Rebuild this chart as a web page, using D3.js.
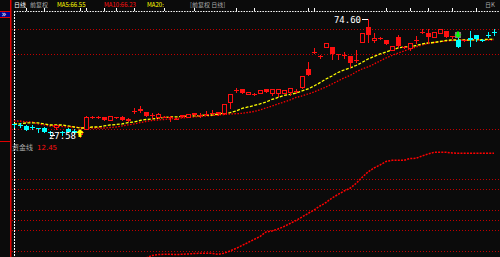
<!DOCTYPE html>
<html>
<head>
<meta charset="utf-8">
<script src="https://cdn.jsdelivr.net/npm/d3@7"></script>
<style>
  html, body { margin: 0; padding: 0; background: #0b0b0b; overflow: hidden; }
</style>
</head>
<body>
<div id="chart"></div>
<script>
// daily candles
const openP = [32.6,32.5,32.0,31.6,31.2,31.2,29.4,31.4,29.4,30.8, 30.0,28.8,30.8,35.4,35.6,35.6,34.4,35.2,35.6,34.8,
  37.9,38.7,37.5,36.0,35.6,35.6,35.6,34.8,36.4,35.6, 37.1,36.0,36.6,37.0,37.5,37.1,41.5,46.3,46.7,44.7,
  44.7,45.1,46.7,45.1,45.1,45.1,45.5,45.7,47.5,54.7, 61.3,59.5,63.4,63.4,60.5,60.1,59.9,58.0,65.4,71.4,
  66.2,67.2,66.2,62.2,67.4,63.4,63.0,66.0,69.4,69.0, 67.4,69.0,69.8,67.6,66.2,66.2,67.0,68.2,66.3,68.4, 69.6];
const highP = [32.8,33.2,32.2,32.4,31.2,31.4,29.8,32.4,30.0,31.0, 30.6,30.4,35.8,36.0,35.8,35.6,36.0,35.6,35.8,35.0,
  39.1,39.9,37.5,37.1,37.1,35.8,35.8,35.0,36.4,36.8, 37.2,37.1,37.9,38.3,37.5,40.8,44.8,47.1,46.7,45.6,
  45.0,46.4,46.7,46.8,46.8,46.4,47.1,46.7,51.9,57.5, 63.0,60.3,65.0,63.4,60.7,61.5,59.9,62.2,69.0,74.60,
  69.0,67.4,66.2,63.8,68.2,63.8,65.0,67.8,70.6,70.6, 69.4,70.6,69.8,68.0,67.0,66.4,69.8,68.4,66.6,69.4, 70.6];
const lowP = [31.6,31.6,30.4,30.8,29.6,29.6,28.9,30.6,28.4,29.4, 28.8,27.58,30.6,35.0,35.2,34.4,34.4,35.0,34.2,33.8,
  37.1,37.5,36.0,35.2,35.2,35.4,34.0,34.6,35.4,35.5, 36.2,35.6,36.4,36.7,36.5,36.8,39.1,45.5,45.1,44.6,
  44.5,45.0,45.5,44.2,44.0,45.0,44.2,45.1,47.3,52.3, 61.1,59.1,63.4,58.7,58.7,59.1,55.5,57.5,65.4,65.4,
  65.4,66.8,64.6,62.2,63.4,63.2,62.2,65.0,69.0,65.0, 67.4,69.0,67.4,67.2,63.4,66.0,63.8,65.8,65.8,67.4, 68.2];
const closeP = [32.4,32.3,30.4,31.4,30.9,29.6,29.2,32.2,29.2,29.6, 29.2,30.0,35.6,35.6,35.5,34.4,36.0,35.4,34.4,34.0,
  38.0,37.9,36.0,36.2,36.6,35.6,35.5,34.9,35.6,36.7, 36.4,36.2,36.8,37.2,36.7,40.7,44.7,46.5,45.1,45.5,
  44.8,46.3,45.5,46.7,46.7,46.3,47.1,45.9,51.9,52.3, 61.5,59.7,65.0,60.7,60.7,60.4,57.1,58.2,69.0,68.2,
  67.2,67.0,64.6,63.8,63.8,63.6,65.0,66.2,69.6,67.4, 69.4,70.6,67.4,67.8,63.4,66.3,66.2,66.6,66.2,68.2, 69.4];
// 1 = up day (red), 0 = down day (cyan)
const upDay = [0,0,0,0,0,0,0,1,0,0, 0,1,1,1,1,1,1,1,1,1,
  1,1,1,1,1,1,1,1,1,1, 1,1,1,1,1,1,1,1,1,1,
  1,1,1,1,1,1,1,1,1,1, 1,1,1,1,1,1,1,1,1,1,
  1,1,1,1,1,1,1,1,1,1, 1,1,1,1,0,1,0,0,0,0, 0];

const maShort = [32.77,32.77,33.17,33.17,33.17,32.77,32.37,32.37,32.37,31.97, 31.57,31.17,31.17,31.57,31.57,31.97,32.37,32.57,32.77,33.29,
  33.56,34.16,34.56,34.76,35.04,35.36,35.56,35.56,35.76,35.96, 35.96,36.08,36.35,36.35,36.75,37.03,37.27,37.95,38.95,39.54,
  40.14,40.74,41.53,42.53,43.33,44.12,44.52,45.12,45.92,46.71, 47.91,49.22,50.70,51.89,53.29,54.28,55.08,56.07,57.27,58.66,
  59.66,60.66,61.45,62.25,63.05,63.45,63.56,64.04,64.64,65.04, 65.24,65.64,66.03,66.23,66.23,66.23,66.23,66.31,66.39,66.47, 66.55];
const maLong = [33.96,33.96,33.56,33.56,32.77,32.37,31.97,31.97,31.77,31.57, 31.57,31.37,31.17,31.17,31.17,31.17,31.37,31.57,31.97,32.37,
  32.77,33.29,33.76,34.16,34.36,34.56,34.76,34.96,35.16,35.36, 35.56,35.76,35.96,36.15,36.35,36.55,36.75,36.87,36.99,37.35,
  37.75,38.35,39.14,39.94,40.74,41.53,42.33,43.33,43.92,44.72, 45.52,46.51,47.51,48.70,49.90,51.10,52.09,53.49,54.68,55.48,
  56.67,57.87,59.06,60.06,61.05,61.85,62.65,63.45,64.24,64.84, 65.24,65.56,65.84,66.03,66.15,66.23,66.23,66.23,66.23,66.23, 66.23];

// lower panel indicator (null = below the visible area)
const indic = [null,null,null,null,null,null,null,null,null,null, null,null,null,null,null,null,null,null,null,null,
  null,null,4,6.5,7.5,7.7,7.7,7.5,7.7,8, 8.5,8.7,8.7,8.7,7.7,8.7,11,13.5,16.5,19.5,
  22.5,25.5,30,31,33,35.5,38.5,41.5,45,48.5, 52,56,59.5,64,67.5,71,73.7,78.5,84.5,90,
  94,97,100.5,101.7,101.7,101.7,103.5,103.7,106,108, 109.7,109.7,109.7,109,108.7,108.7,108.7,108.7,108.7,108.7, 108.7];

const buyAt = [11];
const sellAt = [74];
const dateTicks = [2,5,11,12,15,17,20,25,30,37,40,49,50,62,66,69,73,77];
const priceGrid = [70.6, 60.7, 30.8];
const indGrid = [83, 73, 52, 42, 32, 11];
const highLabel = '74.60';
const lowLabel = '27.58';

const W = 500, H = 257;
const n = openP.length;
const RED = '#ff1010', CYAN = '#00ffff', BG = '#0b0b0b';

const svg = d3.select('#chart').append('svg')
  .attr('width', W).attr('height', H)
  .style('display', 'block').style('background', BG);

const x = d3.scalePoint().domain(d3.range(n)).range([14, 494]);
const y = d3.scaleLinear().domain([27.58, 74.60]).range([137, 19]);
const yInd = d3.scaleLinear().domain([0, 110]).range([262, 152]);
const px = v => Math.round(v) + 0.5;

// grid lines
svg.append('g').selectAll('line').data(priceGrid).join('line')
  .attr('x1', 12).attr('x2', W)
  .attr('y1', d => px(y(d))).attr('y2', d => px(y(d)))
  .attr('stroke', '#c00000').attr('stroke-dasharray', '1,2');
svg.append('g').selectAll('line').data(indGrid).join('line')
  .attr('x1', 12).attr('x2', W)
  .attr('y1', d => px(yInd(d))).attr('y2', d => px(yInd(d)))
  .attr('stroke', '#c00000').attr('stroke-dasharray', '1,2');

// frame
svg.append('line').attr('x1', 10.75).attr('x2', 10.75).attr('y1', 0).attr('y2', H)
  .attr('stroke', '#e00000').attr('stroke-width', 1.5);
svg.append('line').attr('x1', 0).attr('x2', 10).attr('y1', 141.5).attr('y2', 141.5)
  .attr('stroke', '#e00000');
svg.append('rect').attr('x', 0).attr('y', 11).attr('width', 10).attr('height', 7)
  .attr('fill', '#000090');
svg.append('line').attr('x1', 0).attr('x2', 10).attr('y1', 11.5).attr('y2', 11.5).attr('stroke', '#e00000');
svg.append('line').attr('x1', 0).attr('x2', 10).attr('y1', 17.5).attr('y2', 17.5).attr('stroke', '#e00000');
svg.append('text').attr('x', 1.5).attr('y', 17).text('»')
  .attr('fill', '#fff').attr('font-size', 8).attr('font-family', 'DejaVu Sans');

svg.append('line').attr('x1', 14).attr('x2', W).attr('y1', 11.5).attr('y2', 11.5)
  .attr('stroke', '#fff').attr('stroke-dasharray', '1.5,1.2');
svg.append('line').attr('x1', 14.5).attr('x2', 14.5).attr('y1', 11).attr('y2', H)
  .attr('stroke', '#fff').attr('stroke-dasharray', '2,1');

svg.append('g').selectAll('line').data(dateTicks).join('line')
  .attr('x1', d => px(x(d))).attr('x2', d => px(x(d)))
  .attr('y1', 8).attr('y2', 11)
  .attr('stroke', '#fff');

// header
const header = svg.append('g').attr('font-size', 6)
  .attr('font-family', '"Noto Sans CJK SC", "DejaVu Sans", sans-serif');
header.append('text').attr('x', 14).attr('y', 6.5).attr('fill', '#fff').text('日线');
header.append('text').attr('x', 30).attr('y', 6.5).attr('fill', '#aaa').text('前复权');
header.append('text').attr('x', 57).attr('y', 6.5).attr('fill', '#ffff00').text('MA5:66.55');
header.append('text').attr('x', 104).attr('y', 6.5).attr('fill', RED).text('MA10:66.23');
header.append('text').attr('x', 147).attr('y', 6.5).attr('fill', '#ffff00').text('MA20:');
header.append('text').attr('x', 190).attr('y', 6.5).attr('fill', '#aaa').text('[前复权 日线]');
header.append('text').attr('x', 485).attr('y', 6.5).attr('fill', '#aaa').text('日K');

// moving averages
const maLine = d3.line().x((d, i) => x(i)).y(d => y(d));
svg.append('path').datum(maLong).attr('d', maLine)
  .attr('fill', 'none').attr('stroke', '#ff0000').attr('stroke-width', 1.3)
  .attr('stroke-dasharray', '1.5,1.5');
svg.append('path').datum(maShort).attr('d', maLine)
  .attr('fill', 'none').attr('stroke', '#ffff00').attr('stroke-width', 1.3)
  .attr('stroke-dasharray', '3,1.5');

// candles
const candles = d3.range(n).map(i => ({
  i, o: openP[i], h: highP[i], l: lowP[i], c: closeP[i], up: upDay[i] === 1
}));
const cg = svg.append('g');
cg.selectAll('line').data(candles).join('line')
  .attr('x1', d => px(x(d.i))).attr('x2', d => px(x(d.i)))
  .attr('y1', d => Math.round(y(d.h))).attr('y2', d => Math.round(y(d.l)) + 1)
  .attr('stroke', d => d.up ? RED : CYAN);
cg.selectAll('rect').data(candles).join('rect')
  .each(function (d) {
    const top = Math.round(y(Math.max(d.o, d.c)));
    const bot = Math.round(y(Math.min(d.o, d.c)));
    const solid = d.c < d.o;
    const col = d.up ? RED : CYAN;
    const r = d3.select(this);
    if (solid) {
      r.attr('x', Math.round(x(d.i) - 2.5)).attr('width', 5)
        .attr('y', top).attr('height', Math.max(1, bot - top))
        .attr('fill', col);
    } else if (bot - top < 2) {
      r.attr('x', Math.round(x(d.i) - 2.5)).attr('width', 5)
        .attr('y', top).attr('height', 1).attr('fill', col);
    } else {
      r.attr('x', Math.round(x(d.i) - 2.5) + 0.5).attr('width', 4)
        .attr('y', top + 0.5).attr('height', bot - top)
        .attr('fill', BG).attr('stroke', col);
    }
  });

// signals
svg.append('g').selectAll('path').data(buyAt).join('path')
  .attr('d', i => {
    const cx = x(i), b = y(lowP[i]);
    return `M${cx},${b - 8} L${cx + 4},${b - 4} L${cx + 1.5},${b - 4} L${cx + 1.5},${b} L${cx - 1.5},${b} L${cx - 1.5},${b - 4} L${cx - 4},${b - 4} Z`;
  })
  .attr('fill', '#ffff00');
const sg = svg.append('g').selectAll('g').data(sellAt).join('g');
sg.append('rect')
  .attr('x', i => Math.round(x(i) - 3)).attr('width', 6)
  .attr('y', i => Math.round(y(highP[i])) - 6).attr('height', 6)
  .attr('fill', '#8a7a80');
sg.append('path')
  .attr('d', i => {
    const cx = x(i), t = y(highP[i]);
    return `M${cx},${t} L${cx - 3.5},${t - 3.5} L${cx - 1.2},${t - 3.5} L${cx - 1.2},${t - 6.5} L${cx + 1.2},${t - 6.5} L${cx + 1.2},${t - 3.5} L${cx + 3.5},${t - 3.5} Z`;
  })
  .attr('fill', '#00ff00');

// high / low labels
const hi = d3.maxIndex(highP), lo = d3.minIndex(lowP);
svg.append('line')
  .attr('x1', x(hi) - 6).attr('x2', x(hi)).attr('y1', px(y(highP[hi]))).attr('y2', px(y(highP[hi])))
  .attr('stroke', '#fff');
svg.append('text').attr('x', x(hi) - 7).attr('y', y(highP[hi]) + 3.5)
  .attr('text-anchor', 'end').attr('fill', '#fff')
  .attr('font-size', 9).attr('font-family', '"DejaVu Sans Mono", monospace')
  .text(highLabel);
svg.append('text').attr('x', x(lo) - 4).attr('y', y(lowP[lo]) + 2)
  .attr('text-anchor', 'end').attr('fill', '#fff')
  .attr('font-size', 9).attr('font-family', '"DejaVu Sans Mono", monospace')
  .text(lowLabel);
svg.append('line')
  .attr('x1', x(lo) - 30).attr('x2', x(lo) - 25).attr('y1', px(y(lowP[lo]) - 2)).attr('y2', px(y(lowP[lo]) - 2))
  .attr('stroke', '#fff');

// lower panel
svg.append('text').attr('x', 12).attr('y', 150).attr('fill', '#aaa')
  .attr('font-size', 7).attr('font-family', '"Noto Sans CJK SC", sans-serif').text('资金线');
svg.append('text').attr('x', 37).attr('y', 150).attr('fill', RED)
  .attr('font-size', 7).attr('font-family', '"DejaVu Sans", sans-serif').text('12.45');

svg.append('path').datum(indic)
  .attr('d', d3.line().defined(d => d !== null).x((d, i) => x(i)).y(d => yInd(d)))
  .attr('fill', 'none').attr('stroke', '#ff0000').attr('stroke-width', 1.5)
  .attr('stroke-dasharray', '2,1.2');
</script>
</body>
</html>
